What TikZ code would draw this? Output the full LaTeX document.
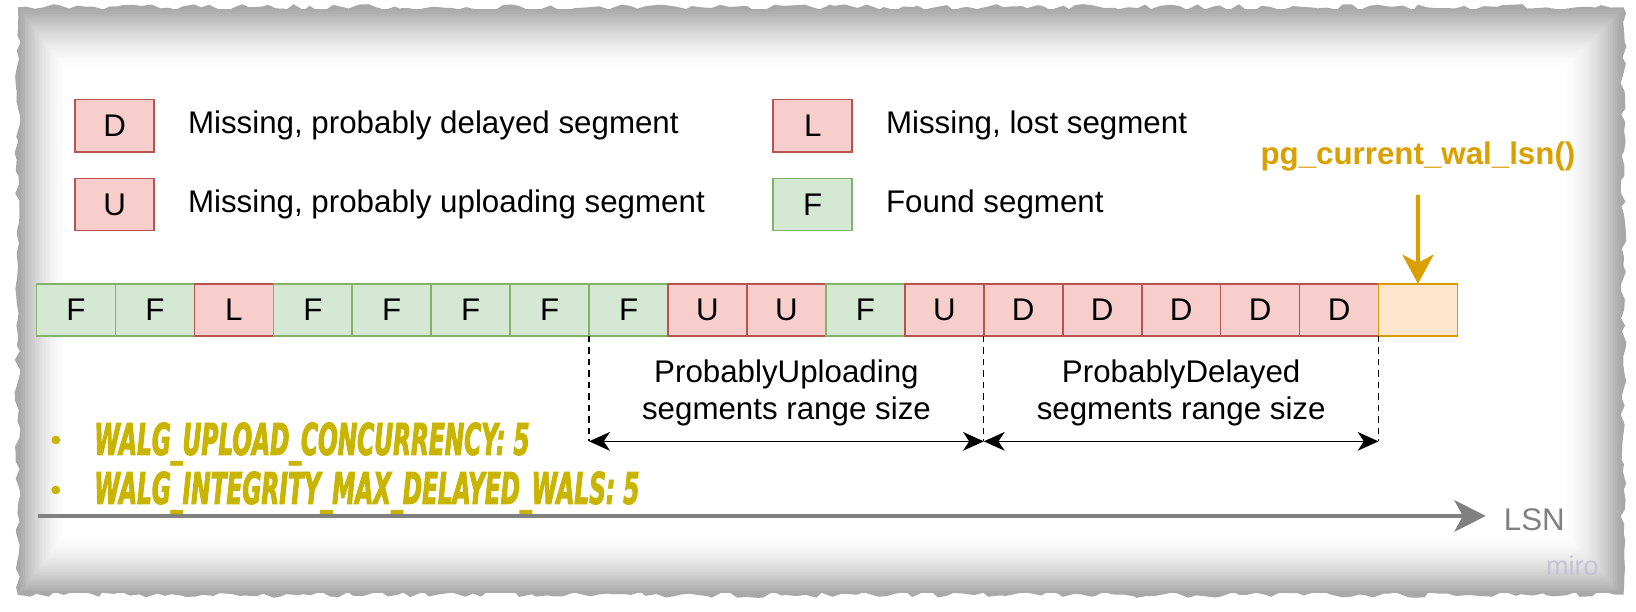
\documentclass[tikz,border=0pt]{standalone}
\usepackage{fontspec}
\setmainfont{Liberation Sans}
\newfontfamily\walgfont{DejaVu Sans}[FakeStretch=0.53,FakeBold=2]
\usepackage{tikz}
\usetikzlibrary{arrows,arrows.meta,positioning,calc,decorations.pathmorphing}
\definecolor{segred}{HTML}{F8CECC}
\definecolor{segredline}{HTML}{B85450}
\definecolor{seggreen}{HTML}{D5E8D4}
\definecolor{seggreenline}{HTML}{82B366}
\definecolor{segorange}{HTML}{FFE6CC}
\definecolor{segorangeline}{HTML}{D79B00}
\definecolor{lsnorange}{HTML}{D9A000}
\definecolor{walgyellow}{HTML}{C9B500}
\definecolor{lsngray}{HTML}{808080}
\definecolor{mirogray}{HTML}{C4C2D6}
\tikzstyle{seg}=[draw,line width=0.8pt,minimum width=37.83pt,minimum height=25pt,inner sep=0pt,outer sep=0pt,font=\fontsize{15}{18}\selectfont]
\tikzstyle{found}=[seg,fill=seggreen,draw=seggreenline]
\tikzstyle{miss}=[seg,fill=segred,draw=segredline]
\tikzstyle{curseg}=[seg,fill=segorange,draw=segorangeline]
\tikzstyle{legendtxt}=[inner sep=0pt,anchor=west,font=\fontsize{15}{18}\selectfont]
\tikzstyle{segrange}=[align=center,inner sep=0pt,font=\fontsize{15}{17.7}\selectfont]
\tikzstyle{rangedash}=[line width=0.6pt,dash pattern=on 3pt off 2.5pt]
\tikzstyle{rangearrow}=[line width=0.7pt,{Stealth[length=10pt,width=9pt,inset=3pt]}-{Stealth[length=10pt,width=9pt,inset=3pt]}]
\tikzstyle{walg}=[anchor=base west,inner sep=0pt,text=walgyellow,font={\walgfont\bfseries\itshape\fontsize{21}{24}\selectfont}]
\tikzstyle{walgdot}=[circle,fill=walgyellow,inner sep=0pt,minimum size=4.2pt]

\begin{document}
\begin{tikzpicture}[x=0.5pt,y=-0.5pt]
\useasboundingbox (0,0) rectangle (1568,585.6);
\pgfmathsetseed{7}
\fill[black!34,decorate,decoration={random steps,segment length=4pt,amplitude=1.5pt}]
  (17,7) -- (1556,7) -- (1556,570) -- (17,570) -- cycle;
\foreach \i in {0,...,30}{
  \pgfmathsetmacro\shade{33*(1-\i/30)^1.7}
  \fill[black!\shade] (19+1.5*\i,9+2*\i) rectangle (1554-1.9*\i,568-1.9*\i);
}

\node[miss] (keyD) at (110,120.5) {D};
\node[legendtxt,right=16pt of keyD] (txtD) {Missing, probably delayed segment};
\node[miss] (keyU) at (110,196) {U};
\node[legendtxt,right=16pt of keyU] (txtU) {Missing, probably uploading segment};
\node[miss] (keyL) at (779,120.5) {L};
\node[legendtxt,right=16pt of keyL] (txtL) {Missing, lost segment};
\node[found] (keyF) at (779,196) {F};
\node[legendtxt,right=16pt of keyF] (txtF) {Found segment};

\coordinate (s0) at (35,297);
\foreach \lbl/\kind [count=\n] in {F/found,F/found,L/miss,F/found,F/found,F/found,F/found,F/found,
    U/miss,U/miss,F/found,U/miss,D/miss,D/miss,D/miss,D/miss,D/miss}{
  \pgfmathtruncatemacro\prev{\n-1}
  \node[\kind,right=0pt of s\prev] (s\n) {\lbl};
}
\node[curseg,right=0pt of s17] (s18) {};

\node[inner sep=0pt,anchor=base,text=lsnorange,font=\bfseries\fontsize{15}{18}\selectfont] (walpos) at (1359,158) {pg\_current\_wal\_lsn()};
\draw[line width=2pt,draw=lsnorange,-{Stealth[length=14pt,width=15pt,inset=4pt]}] ([yshift=-11pt]walpos.south) -- (s18.north);

\coordinate (rangebase) at (0,423);
\coordinate (upA) at (s8.south west |- rangebase);
\coordinate (upB) at (s12.south east |- rangebase);
\coordinate (delB) at (s17.south east |- rangebase);
\draw[rangedash] (s8.south west) -- (upA);
\draw[rangedash] (s12.south east) -- (upB);
\draw[rangedash] (s17.south east) -- (delB);
\draw[rangearrow] (upA) -- (upB);
\draw[rangearrow] (upB) -- (delB);
\node[segrange] (uplbl) at ($(upA)!0.5!(upB)+(0,-46)$) {ProbablyUploading\\segments range size};
\node[segrange] (dellbl) at ($(upB)!0.5!(delB)+(0,-46)$) {ProbablyDelayed\\segments range size};

\node[walgdot] (dot1) at (53.5,421.7) {};
\node[walg] (walgup) at (90,436) {WALG\_UPLOAD\_CONCURRENCY: 5};
\node[walgdot] (dot2) at (53.5,469.6) {};
\node[walg] (walgdel) at (90,483) {WALG\_INTEGRITY\_MAX\_DELAYED\_WALS: 5};

\coordinate (lsnstart) at (36,494.5);
\coordinate (lsnend) at (1424,494.5);
\draw[line width=2pt,draw=lsngray,-{Stealth[length=15pt,width=15pt,inset=4pt]}] (lsnstart) -- (lsnend);
\node[anchor=base west,inner sep=0pt,text=lsngray,font=\fontsize{15}{18}\selectfont] (lsn) at (1441,508) {LSN};
\node[text=mirogray,font=\fontsize{13}{15}\selectfont] (miro) at (1507,542) {miro};
\end{tikzpicture}
\end{document}
